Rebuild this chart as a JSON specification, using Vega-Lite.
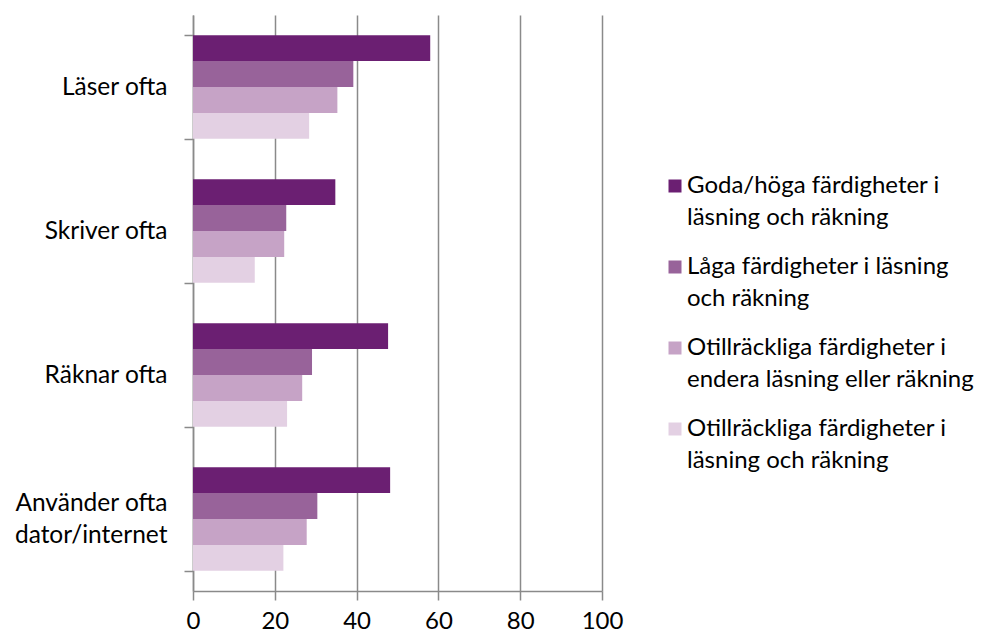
{
  "$schema": "https://vega.github.io/schema/vega-lite/v6.json",
  "width": 409,
  "height": 576,
  "autosize": "none",
  "padding": {"left": 193, "top": 15, "right": 388, "bottom": 47},
  "background": "white",
  "config": {
    "view": {"stroke": null},
    "font": "Lato",
    "axis": {"labelFont": "Lato", "labelColor": "#000000"},
    "legend": {"labelFont": "Lato", "labelColor": "#000000"}
  },
  "data": {
    "values": [
      {"aktivitet": "Läser ofta", "grupp": "Goda/höga färdigheter i läsning och räkning", "andel": 58.0},
      {"aktivitet": "Läser ofta", "grupp": "Låga färdigheter i läsning och räkning", "andel": 39.2},
      {"aktivitet": "Läser ofta", "grupp": "Otillräckliga färdigheter i endera läsning eller räkning", "andel": 35.3},
      {"aktivitet": "Läser ofta", "grupp": "Otillräckliga färdigheter i läsning och räkning", "andel": 28.4},
      {"aktivitet": "Skriver ofta", "grupp": "Goda/höga färdigheter i läsning och räkning", "andel": 34.8},
      {"aktivitet": "Skriver ofta", "grupp": "Låga färdigheter i läsning och räkning", "andel": 22.8},
      {"aktivitet": "Skriver ofta", "grupp": "Otillräckliga färdigheter i endera läsning eller räkning", "andel": 22.3},
      {"aktivitet": "Skriver ofta", "grupp": "Otillräckliga färdigheter i läsning och räkning", "andel": 15.1},
      {"aktivitet": "Räknar ofta", "grupp": "Goda/höga färdigheter i läsning och räkning", "andel": 47.7},
      {"aktivitet": "Räknar ofta", "grupp": "Låga färdigheter i läsning och räkning", "andel": 29.1},
      {"aktivitet": "Räknar ofta", "grupp": "Otillräckliga färdigheter i endera läsning eller räkning", "andel": 26.7},
      {"aktivitet": "Räknar ofta", "grupp": "Otillräckliga färdigheter i läsning och räkning", "andel": 23.0},
      {"aktivitet": "Använder ofta dator/internet", "grupp": "Goda/höga färdigheter i läsning och räkning", "andel": 48.2},
      {"aktivitet": "Använder ofta dator/internet", "grupp": "Låga färdigheter i läsning och räkning", "andel": 30.4},
      {"aktivitet": "Använder ofta dator/internet", "grupp": "Otillräckliga färdigheter i endera läsning eller räkning", "andel": 27.8},
      {"aktivitet": "Använder ofta dator/internet", "grupp": "Otillräckliga färdigheter i läsning och räkning", "andel": 22.1}
    ]
  },
  "mark": {"type": "bar"},
  "encoding": {
    "y": {
      "field": "aktivitet",
      "type": "nominal",
      "sort": ["Läser ofta", "Skriver ofta", "Räknar ofta", "Använder ofta dator/internet"],
      "scale": {"paddingInner": 0.28, "paddingOuter": 0.14},
      "axis": {
        "title": null,
        "tickBand": "extent",
        "tickSize": 9,
        "tickColor": "#8a8a8a",
        "tickWidth": 1.5,
        "domainColor": "#8a8a8a",
        "domainWidth": 1.5,
        "grid": false,
        "labelFontSize": 24.5,
        "labelPadding": 17,
        "labelLineHeight": 32,
        "labelLimit": 300,
        "labelOffset": {"condition": {"test": "datum.value == 'Använder ofta dator/internet'", "value": -16}, "value": 0},
        "labelExpr": "datum.value == 'Använder ofta dator/internet' ? ['Använder ofta', 'dator/internet'] : datum.value"
      }
    },
    "yOffset": {
      "field": "grupp",
      "type": "nominal",
      "sort": [
        "Goda/höga färdigheter i läsning och räkning",
        "Låga färdigheter i läsning och räkning",
        "Otillräckliga färdigheter i endera läsning eller räkning",
        "Otillräckliga färdigheter i läsning och räkning"
      ],
      "scale": {"paddingInner": 0, "paddingOuter": 0}
    },
    "x": {
      "field": "andel",
      "type": "quantitative",
      "scale": {"domain": [0, 100], "nice": false},
      "axis": {
        "title": null,
        "values": [0, 20, 40, 60, 80, 100],
        "tickSize": 9,
        "tickColor": "#8a8a8a",
        "tickWidth": 1.5,
        "domainColor": "#8a8a8a",
        "domainWidth": 1.5,
        "grid": true,
        "gridColor": "#8a8a8a",
        "gridWidth": 1.5,
        "labelFontSize": 24,
        "labelPadding": 9,
        "labelFlush": false
      }
    },
    "color": {
      "field": "grupp",
      "type": "nominal",
      "scale": {
        "domain": [
          "Goda/höga färdigheter i läsning och räkning",
          "Låga färdigheter i läsning och räkning",
          "Otillräckliga färdigheter i endera läsning eller räkning",
          "Otillräckliga färdigheter i läsning och räkning"
        ],
        "range": ["#6B1F72", "#98639A", "#C6A3C6", "#E3D0E3"]
      },
      "legend": {
        "title": null,
        "orient": "none",
        "legendX": 470,
        "legendY": 159,
        "padding": 0,
        "symbolType": "square",
        "symbolSize": 169,
        "symbolStrokeWidth": 0,
        "symbolOpacity": 1,
        "labelFontSize": 24,
        "labelBaseline": "middle",
        "labelOffset": 0,
        "labelLimit": 400,
        "rowPadding": 25,
        "labelExpr": "datum.value == 'Goda/höga färdigheter i läsning och räkning' ? ['Goda/höga färdigheter i', 'läsning och räkning'] : datum.value == 'Låga färdigheter i läsning och räkning' ? ['Låga färdigheter i läsning', 'och räkning'] : datum.value == 'Otillräckliga färdigheter i endera läsning eller räkning' ? ['Otillräckliga färdigheter i', 'endera läsning eller räkning'] : ['Otillräckliga färdigheter i', 'läsning och räkning']",
        "encode": {"labels": {"update": {"lineHeight": {"value": 32}}}}
      }
    }
  }
}
